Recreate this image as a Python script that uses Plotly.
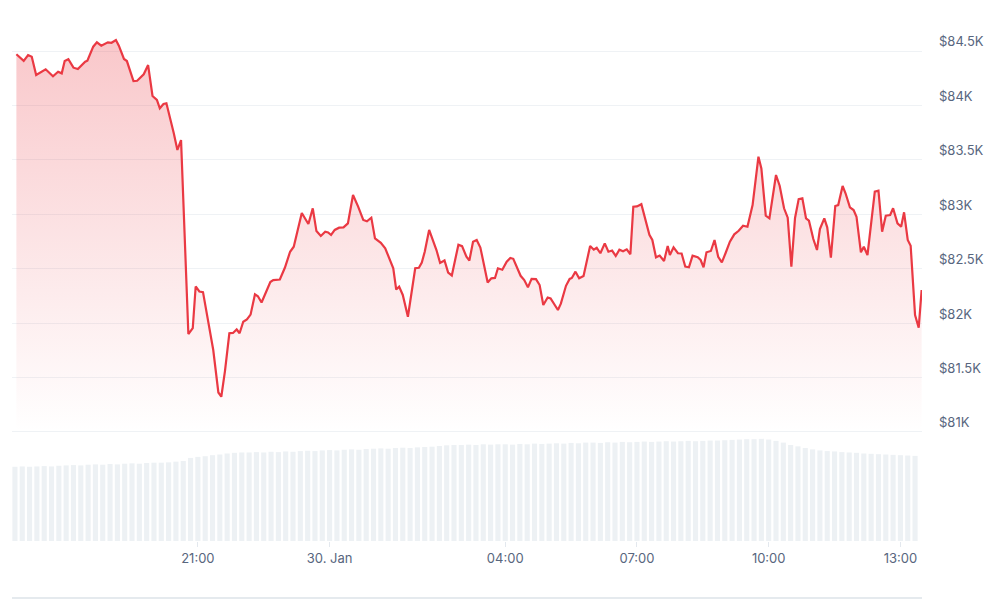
import plotly.graph_objects as go
import pandas as pd

# ---- price series (time HH:MM, price in USD) ----
price_times = [
    "16:52", "17:02", "17:08", "17:13", "17:19", "17:32", "17:42", "17:49", "17:54", "17:58",
    "18:03", "18:10", "18:16", "18:26", "18:29", "18:37", "18:42", "18:48", "18:57", "19:02",
    "19:08", "19:12", "19:19", "19:23", "19:32", "19:37", "19:46", "19:52", "19:58", "20:04",
    "20:08", "20:13", "20:17", "20:22", "20:27", "20:32", "20:37", "20:47", "20:53", "20:57",
    "21:02", "21:07", "21:14", "21:21", "21:28", "21:32", "21:37", "21:43", "21:48", "21:53",
    "21:57", "22:02", "22:07", "22:12", "22:18", "22:22", "22:27", "22:34", "22:39", "22:43",
    "22:52", "22:59", "23:06", "23:11", "23:15", "23:22", "23:31", "23:37", "23:42", "23:48",
    "23:54", "23:58", "00:02", "00:07", "00:13", "00:19", "00:25", "00:32", "00:39", "00:46",
    "00:51", "00:57", "01:02", "01:10", "01:16", "01:24", "01:27", "01:31", "01:35", "01:40",
    "01:47", "01:57", "02:02", "02:06", "02:10", "02:16", "02:26", "02:31", "02:37", "02:42",
    "02:47", "02:56", "03:01", "03:07", "03:11", "03:16", "03:21", "03:26", "03:36", "03:41",
    "03:46", "03:50", "03:56", "04:02", "04:07", "04:11", "04:21", "04:26", "04:31", "04:36",
    "04:42", "04:47", "04:52", "04:58", "05:02", "05:12", "05:16", "05:23", "05:28", "05:31",
    "05:36", "05:41", "05:47", "05:56", "06:01", "06:05", "06:10", "06:16", "06:21", "06:26",
    "06:31", "06:36", "06:41", "06:46", "06:51", "06:55", "07:00", "07:06", "07:12", "07:17",
    "07:21", "07:26", "07:31", "07:37", "07:42", "07:45", "07:50", "07:56", "08:01", "08:06",
    "08:11", "08:16", "08:23", "08:27", "08:31", "08:35", "08:41", "08:46", "08:51", "08:56",
    "09:01", "09:07", "09:13", "09:19", "09:25", "09:31", "09:38", "09:46", "09:50", "09:56",
    "10:01", "10:10", "10:15", "10:21", "10:26", "10:31", "10:36", "10:41", "10:46", "10:51",
    "10:55", "11:01", "11:06", "11:10", "11:16", "11:20", "11:25", "11:31", "11:35", "11:41",
    "11:45", "11:51", "11:56", "12:00", "12:06", "12:10", "12:15", "12:25", "12:30", "12:35",
    "12:40", "12:46", "12:50", "12:56", "13:01", "13:05", "13:10", "13:14", "13:20", "13:25",
    "13:29",
]
prices = [
    84470, 84410, 84463, 84448, 84280, 84332, 84268, 84310, 84295, 84408,
    84424, 84347, 84335, 84402, 84411, 84540, 84580, 84549, 84580, 84576,
    84601, 84549, 84427, 84408, 84224, 84227, 84286, 84371, 84087, 84050,
    83974, 84013, 84020, 83896, 83747, 83591, 83682, 81900, 81955, 82337,
    82291, 82285, 82029, 81753, 81363, 81324, 81560, 81907, 81910, 81942,
    81907, 82013, 82034, 82078, 82265, 82247, 82190, 82305, 82378, 82396,
    82401, 82511, 82656, 82702, 82825, 83012, 82911, 83055, 82846, 82801,
    82840, 82833, 82810, 82856, 82877, 82880, 82917, 83177, 83070, 82948,
    82936, 82969, 82779, 82738, 82688, 82553, 82504, 82309, 82335, 82259,
    82059, 82504, 82509, 82557, 82656, 82856, 82672, 82553, 82576, 82465,
    82438, 82721, 82707, 82610, 82576, 82748, 82764, 82695, 82373, 82412,
    82415, 82504, 82491, 82564, 82598, 82591, 82435, 82396, 82329, 82407,
    82405, 82350, 82167, 82236, 82228, 82121, 82179, 82343, 82406, 82415,
    82473, 82412, 82433, 82709, 82675, 82692, 82642, 82733, 82656, 82667,
    82617, 82675, 82661, 82678, 82633, 83070, 83072, 83093, 82932, 82812,
    82764, 82605, 82621, 82571, 82709, 82626, 82697, 82642, 82640, 82519,
    82513, 82620, 82605, 82580, 82513, 82651, 82663, 82764, 82610, 82559,
    82642, 82748, 82816, 82849, 82895, 82886, 83085, 83529, 83422, 82987,
    82963, 83361, 83263, 83055, 82969, 82519, 82966, 83140, 83147, 82963,
    82941, 82773, 82672, 82865, 82963, 82880, 82601, 83076, 83085, 83260,
    83193, 83064, 83039, 82978, 82651, 82702, 82626, 83208, 83217, 82840,
    82987, 82993, 83055, 82917, 82886, 83018, 82764, 82711, 82075, 81958,
    82304,
]

# ---- volume series (10-minute bars from 16:50, arbitrary units) ----
volume = [
    21.8, 21.9, 21.8, 21.9, 22.0, 21.9, 22.1,
    22.2, 22.3, 22.2, 22.4, 22.5, 22.4,
    22.6, 22.5, 22.7, 22.8, 22.7, 22.9,
    23.0, 23.0, 23.1, 23.3, 23.5, 24.4,
    24.7, 24.9, 25.2, 25.4, 25.7, 25.9,
    26.0, 26.0, 26.1, 26.0, 26.2, 26.1,
    26.3, 26.2, 26.4, 26.5, 26.4, 26.6,
    26.7, 26.6, 26.8, 26.9, 26.8, 27.0,
    27.1, 27.2, 27.1, 27.3, 27.4, 27.3,
    27.5, 27.6, 27.7, 27.9, 28.1, 28.2,
    28.2, 28.3, 28.2, 28.4, 28.3, 28.4,
    28.4, 28.3, 28.5, 28.4, 28.6, 28.5,
    28.6, 28.7, 28.6, 28.8, 28.7, 28.9,
    28.9, 28.8, 29.0, 28.9, 29.1, 29.0,
    29.1, 29.2, 29.1, 29.2, 29.3, 29.2,
    29.3, 29.4, 29.3, 29.4, 29.5, 29.5,
    29.6, 29.7, 29.8, 29.9, 29.9, 30.0,
    29.8, 29.4, 28.9, 28.2, 27.8, 27.3,
    26.9, 26.6, 26.4, 26.3, 26.1, 26.0,
    25.9, 25.7, 25.6, 25.5, 25.4, 25.3,
    25.2, 25.1, 25.0,
]

# ---- axis labels ----
x_tick_times = ["2025-01-29 21:00", "2025-01-30 00:00", "2025-01-30 04:00",
                "2025-01-30 07:00", "2025-01-30 10:00", "2025-01-30 13:00"]
x_tick_text = ["21:00", "30. Jan", "04:00", "07:00", "10:00", "13:00"]
y_tick_vals = [81000, 81500, 82000, 82500, 83000, 83500, 84000, 84500]
y_tick_text = ["$81K", "$81.5K", "$82K", "$82.5K", "$83K", "$83.5K", "$84K", "$84.5K"]


def to_ts(hhmm):
    day = "2025-01-29" if int(hhmm[:2]) >= 16 else "2025-01-30"
    return f"{day} {hhmm}"


px_times = [to_ts(t) for t in price_times]
vol_times = pd.date_range("2025-01-29 16:50", periods=len(volume), freq="10min")

RED = "#ea3943"
GREY = "#58667e"

fig = go.Figure()
fig.add_trace(go.Bar(
    x=vol_times, y=volume, xaxis="x", yaxis="y2",
    marker=dict(color="#edf1f4", line=dict(width=0)),
    hoverinfo="skip", showlegend=False,
))
fig.add_trace(go.Scatter(
    x=px_times, y=prices, xaxis="x", yaxis="y",
    mode="lines", line=dict(color=RED, width=2.2),
    fill="tozeroy",
    fillgradient=dict(type="vertical", start=81000, stop=84600,
                      colorscale=[[0, "rgba(234,57,67,0.0)"], [1, "rgba(234,57,67,0.28)"]]),
    showlegend=False,
))

split = 0.2015
fig.update_layout(
    width=1000, height=600,
    margin=dict(l=4, r=86, t=12, b=67),
    paper_bgcolor="white", plot_bgcolor="white",
    font=dict(family="Inter, Roboto, sans-serif", size=13, color=GREY),
    bargap=0.3,
    xaxis=dict(
        domain=[0, 1], anchor="y2",
        range=["2025-01-29 16:46", "2025-01-30 13:29:30"],
        tickvals=x_tick_times, ticktext=x_tick_text,
        ticks="outside", ticklen=5, tickcolor="#e3e8ee", tickwidth=1,
        showgrid=False, showline=False, zeroline=False,
        tickfont=dict(size=13, color=GREY),
    ),
    yaxis=dict(
        domain=[split, 1], anchor="x", side="right",
        range=[80963, 84785],
        tickvals=y_tick_vals, ticktext=y_tick_text,
        ticklabelposition="outside top", ticklabelstandoff=16,
        showgrid=True, gridcolor="#eff2f5", gridwidth=1,
        zeroline=False, showline=False, ticks="",
        tickfont=dict(size=13, color=GREY),
    ),
    yaxis2=dict(
        domain=[0, split], anchor="x", range=[0, 30.83],
        visible=False,
    ),
    shapes=[dict(type="line", xref="paper", yref="paper", x0=0, x1=1,
                 y0=-0.1094, y1=-0.1094, line=dict(color="#dce3e8", width=1.5))],
)

fig.write_html("out.html")
